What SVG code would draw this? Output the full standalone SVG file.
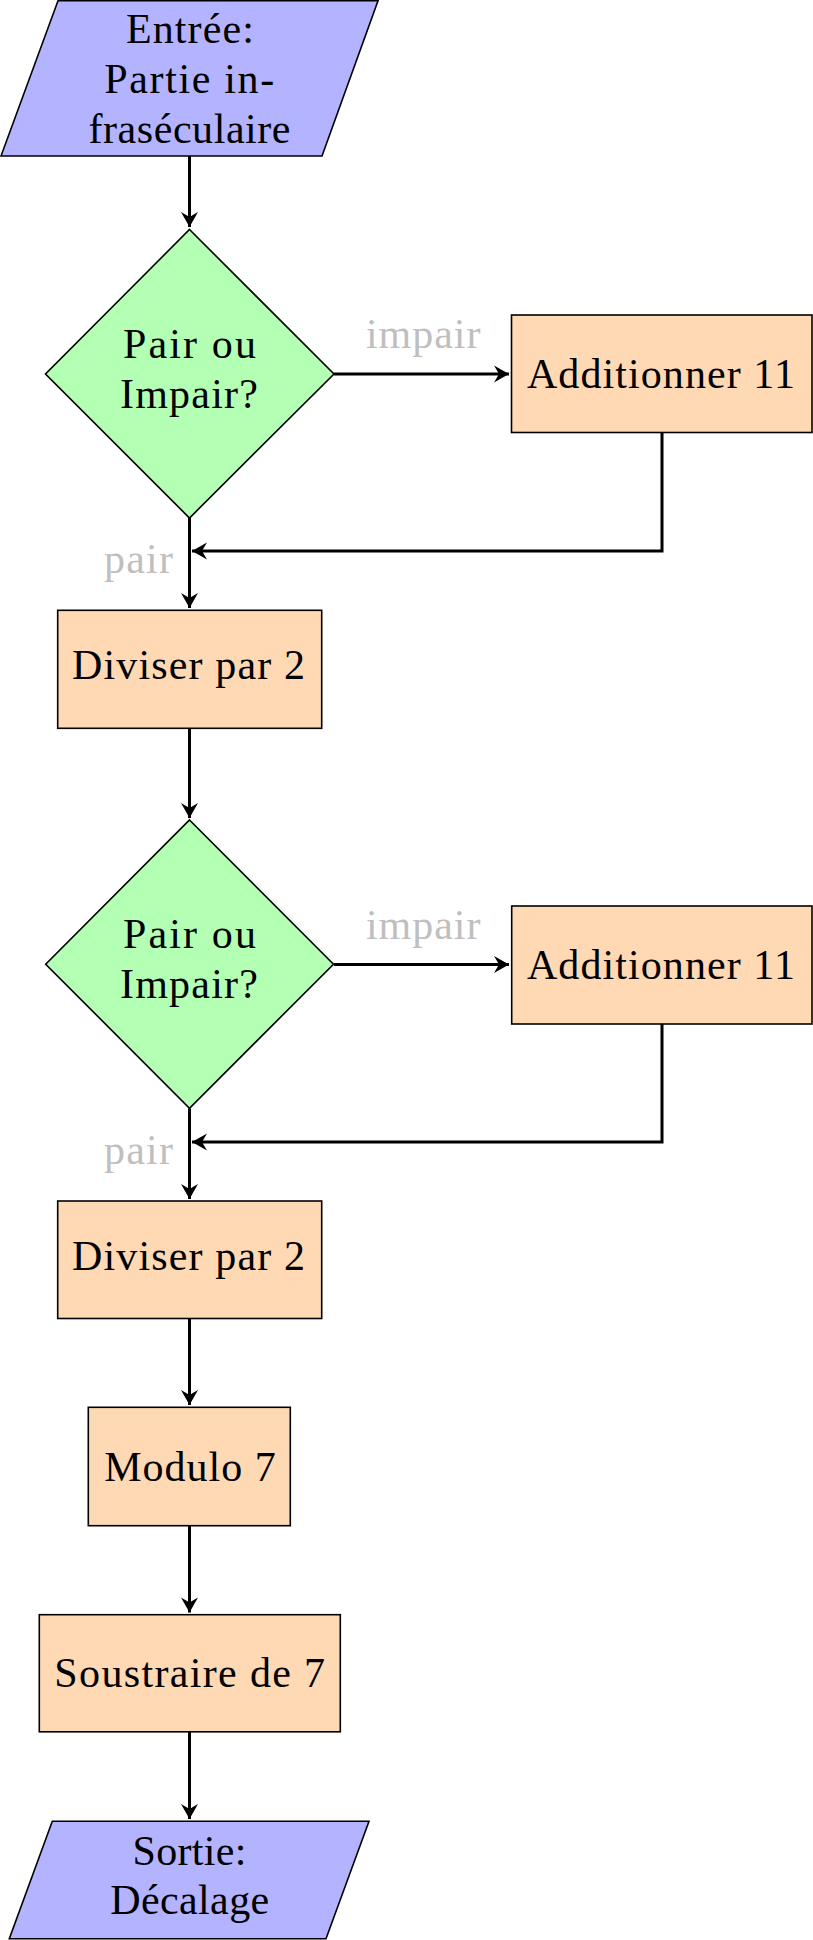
<svg xmlns="http://www.w3.org/2000/svg" width="813" height="1940" viewBox="0 0 813 1940">
<style>
  .io { fill: #b3b3ff; stroke: #000; stroke-width: 1.6; }
  .dec { fill: #b3ffb3; stroke: #000; stroke-width: 1.6; }
  .proc { fill: #ffd9b3; stroke: #000; stroke-width: 1.6; }
  .t { font-family: "Liberation Serif", "DejaVu Serif", serif; font-size: 42px; fill: #000; text-anchor: middle; }
  .lbl { font-family: "Liberation Serif", "DejaVu Serif", serif; font-size: 42px; fill: #bfbfbf; text-anchor: middle; }
  .c { fill: none; stroke: #000; stroke-width: 3; }
</style>
<defs>
  <marker id="arr" markerUnits="userSpaceOnUse" viewBox="-18 -10 20 20" refX="0" refY="0" markerWidth="20" markerHeight="20" orient="auto">
    <path d="M0,0 L-15,-8.5 L-10,0 L-15,8.5 Z" fill="#000"/>
  </marker>
</defs>

<g id="connectors">
  <path class="c" d="M189.5,156 V227" marker-end="url(#arr)"/>
  <path class="c" d="M334,374 H509" marker-end="url(#arr)"/>
  <path class="c" d="M662,432.5 V551 H192" marker-end="url(#arr)"/>
  <path class="c" d="M189.5,518 V608" marker-end="url(#arr)"/>
  <path class="c" d="M189.5,728.3 V818" marker-end="url(#arr)"/>
  <path class="c" d="M334,964.5 H509" marker-end="url(#arr)"/>
  <path class="c" d="M662,1024 V1142 H192" marker-end="url(#arr)"/>
  <path class="c" d="M189.5,1108.5 V1199" marker-end="url(#arr)"/>
  <path class="c" d="M189.5,1318.5 V1405" marker-end="url(#arr)"/>
  <path class="c" d="M189.5,1525.7 V1612.5" marker-end="url(#arr)"/>
  <path class="c" d="M189.5,1731.8 V1819" marker-end="url(#arr)"/>
  <text class="lbl" x="423.2" y="348" textLength="114.5">impair</text>
  <text class="lbl" x="138.5" y="573" textLength="69">pair</text>
  <text class="lbl" x="423.2" y="939" textLength="114.5">impair</text>
  <text class="lbl" x="138.5" y="1164" textLength="69">pair</text>
</g>

<g id="entree">
  <polygon class="io" points="58,0.8 378,0.8 322,156 1,156"/>
  <text class="t" x="189.9" y="43" textLength="128">Entrée:</text>
  <text class="t" x="189.2" y="93" textLength="170">Partie in-</text>
  <text class="t" x="189.5" y="143" textLength="202">fraséculaire</text>
</g>

<g id="decision1">
  <polygon class="dec" points="189.5,229.5 334,374 189.5,518 45.5,374"/>
  <text class="t" x="189.5" y="358.3" textLength="133">Pair ou</text>
  <text class="t" x="189" y="408.3" textLength="138">Impair?</text>
</g>

<g id="add1">
  <rect class="proc" x="511.5" y="315" width="300.5" height="117.5"/>
  <text class="t" x="660.9" y="388" textLength="268">Additionner 11</text>
</g>

<g id="div1">
  <rect class="proc" x="57.7" y="610.3" width="264" height="118"/>
  <text class="t" x="188.5" y="679" textLength="233">Diviser par 2</text>
</g>

<g id="decision2">
  <polygon class="dec" points="189.5,820 333.5,964.2 189.5,1108.3 45.7,964.2"/>
  <text class="t" x="189.5" y="948.3" textLength="133">Pair ou</text>
  <text class="t" x="189" y="998.3" textLength="138">Impair?</text>
</g>

<g id="add2">
  <rect class="proc" x="511.7" y="906" width="300.3" height="118"/>
  <text class="t" x="660.9" y="979" textLength="268">Additionner 11</text>
</g>

<g id="div2">
  <rect class="proc" x="57.7" y="1201" width="264" height="117.5"/>
  <text class="t" x="188.5" y="1269.5" textLength="233">Diviser par 2</text>
</g>

<g id="modulo">
  <rect class="proc" x="88.3" y="1407.3" width="202" height="118.4"/>
  <text class="t" x="190" y="1480.8" textLength="171.7">Modulo 7</text>
</g>

<g id="soustraire">
  <rect class="proc" x="39.3" y="1614.7" width="301" height="117.1"/>
  <text class="t" x="189.7" y="1687" textLength="270.7">Soustraire de 7</text>
</g>

<g id="sortie">
  <polygon class="io" points="52.3,1821.2 369,1821.2 326,1938.8 9.3,1938.8"/>
  <text class="t" x="189.5" y="1865.3" textLength="114">Sortie:</text>
  <text class="t" x="189.7" y="1914.3" textLength="159">Décalage</text>
</g>
</svg>
